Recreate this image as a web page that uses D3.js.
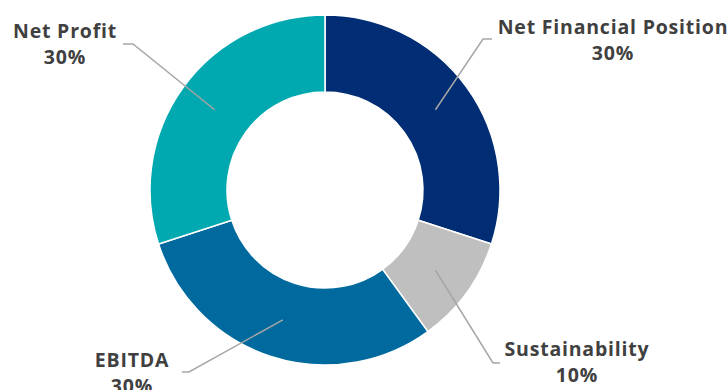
<!DOCTYPE html>
<html>
<head>
<meta charset="utf-8">
<script src="https://cdn.jsdelivr.net/npm/d3@7"></script>
<style>
  body { margin: 0; background: #fff; }
  svg { display: block; }
</style>
</head>
<body>
<div id="donut_chart"></div>
<script>
    // data
    const categories = ["Net Financial Position", "Sustainability", "EBITDA", "Net Profit"];
    const values = [30, 10, 30, 30];
    const valueLabels = ["30%", "10%", "30%", "30%"];
    const colors = ["#002d74", "#bfbfbf", "#006a9e", "#00a9b0"];

    const width = 728, height = 390;
    const cx = 325, cy = 190;
    const outerR = 175, innerR = 98;

    const svg = d3.select("#donut_chart")
        .append("svg")
        .attr("width", width)
        .attr("height", height);

    const g = svg.append("g")
        .attr("transform", `translate(${cx},${cy})`);

    const data = categories.map((c, i) => ({ name: c, value: values[i], label: valueLabels[i], color: colors[i] }));

    const pie = d3.pie()
        .value(d => d.value)
        .sort(null);

    const arc = d3.arc()
        .innerRadius(innerR)
        .outerRadius(outerR);

    const arcs = pie(data);

    g.selectAll("path.slice")
        .data(arcs)
        .join("path")
        .attr("class", "slice")
        .attr("d", arc)
        .attr("fill", d => d.data.color)
        .attr("stroke", "#fff")
        .attr("stroke-width", 1.5);

    // label layout (relative to center): elbow point, line end, text center
    const layout = [
        { elbow: [158, -151], end: [167, -151], text: [288, -156] },
        { elbow: [168, 173], end: [175, 173], text: [252, 166] },
        { elbow: [-136, 182], end: [-143, 182], text: [-193, 177] },
        { elbow: [-192, -146], end: [-202, -146], text: [-260, -152] }
    ];

    const labels = g.selectAll("g.label")
        .data(arcs)
        .join("g")
        .attr("class", "label");

    labels.append("polyline")
        .attr("points", (d, i) => {
            const c = arc.centroid(d);
            return [c, layout[i].elbow, layout[i].end].map(p => p.join(",")).join(" ");
        })
        .attr("fill", "none")
        .attr("stroke", "#a6a6a6")
        .attr("stroke-width", 1.5);

    const txt = labels.append("text")
        .attr("x", (d, i) => layout[i].text[0])
        .attr("y", (d, i) => layout[i].text[1])
        .attr("text-anchor", "middle")
        .style("font-family", "'Open Sans', Lato, sans-serif")
        .style("font-weight", "bold")
        .style("font-size", "19.5px")
        .style("letter-spacing", "0.8px")
        .attr("fill", "#404040");

    txt.append("tspan")
        .text(d => d.data.name);
    txt.append("tspan")
        .attr("x", (d, i) => layout[i].text[0])
        .attr("dy", 26)
        .text(d => d.data.label);
</script>
</body>
</html>
